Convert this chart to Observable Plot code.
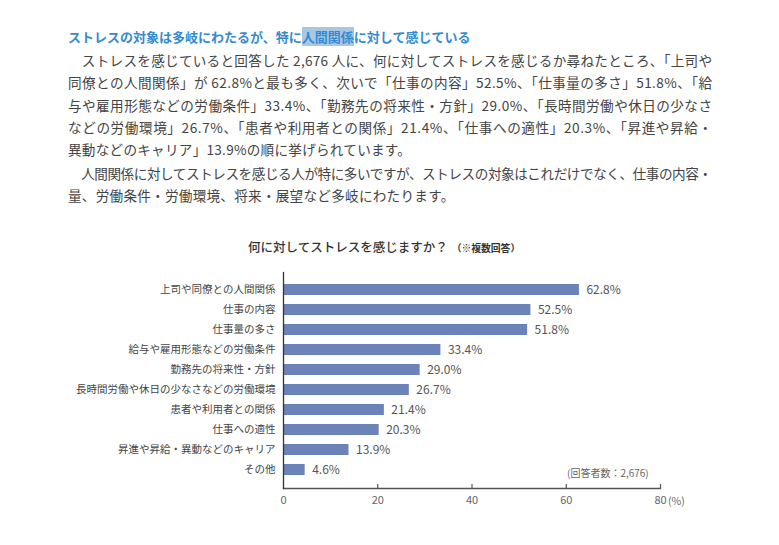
<!DOCTYPE html>
<html><head><meta charset="utf-8">
<script src="https://cdn.jsdelivr.net/npm/d3@7"></script>
<script src="https://cdn.jsdelivr.net/npm/@observablehq/plot@0.6"></script>
<style>
body{margin:0;background:#fff;font-family:"Noto Sans CJK JP","Noto Sans",sans-serif;}
#page{position:relative;width:779px;height:545px;overflow:hidden;background:#fff;}
.t{position:absolute;line-height:20px;white-space:nowrap;}
.title{left:68px;top:27px;font-size:13px;font-weight:700;color:#348bd0;}
.title .hl{background:#a9c6e3;}
.b{left:68px;font-size:13.6px;color:#444;}
.ct{left:248px;top:237px;font-size:12.5px;font-weight:500;color:#333;}
.ct small{font-size:9.8px;font-weight:700;margin-left:4px;}
.note{left:567px;top:466px;font-size:10px;line-height:14px;color:#666;}
.pct{left:668px;top:494px;font-size:10.5px;line-height:14px;color:#666;}
#chart{position:absolute;left:0;top:255px;}
</style></head><body>
<div id="page">
  <div class="t title">ストレスの対象は多岐にわたるが、特に<span class="hl">人間関係</span>に対して感じている</div>
  <div class="t b j" style="top:50px">　ストレスを感じていると回答した 2,676 人に、何に対してストレスを感じるか尋ねたところ、「上司や</div>
  <div class="t b j" style="top:72px">同僚との人間関係」が 62.8%と最も多く、次いで「仕事の内容」52.5%、「仕事量の多さ」51.8%、「給</div>
  <div class="t b j" style="top:95px">与や雇用形態などの労働条件」33.4%、「勤務先の将来性・方針」29.0%、「長時間労働や休日の少なさ</div>
  <div class="t b j" style="top:117px">などの労働環境」26.7%、「患者や利用者との関係」21.4%、「仕事への適性」20.3%、「昇進や昇給・</div>
  <div class="t b" style="top:139px">異動などのキャリア」13.9%の順に挙げられています。</div>
  <div class="t b j" style="top:163px">　人間関係に対してストレスを感じる人が特に多いですが、ストレスの対象はこれだけでなく、仕事の内容・</div>
  <div class="t b" style="top:185px">量、労働条件・労働環境、将来・展望など多岐にわたります。</div>
  <div class="t ct">何に対してストレスを感じますか？<small>（※複数回答）</small></div>
  <div id="chart"></div>
  <div class="t note">(回答者数：2,676)</div>
  <div class="t pct">(%)</div>
</div>
<script>
const categories = [
  "上司や同僚との人間関係",
  "仕事の内容",
  "仕事量の多さ",
  "給与や雇用形態などの労働条件",
  "勤務先の将来性・方針",
  "長時間労働や休日の少なさなどの労働環境",
  "患者や利用者との関係",
  "仕事への適性",
  "昇進や昇給・異動などのキャリア",
  "その他"
];
const values = [62.8, 52.5, 51.8, 33.4, 29.0, 26.7, 21.4, 20.3, 13.9, 4.6];
const xTicks = [0, 20, 40, 60, 80];

// fit justified body lines to the text block width
const blockWidth = 644;
let avgLs = 0, cnt = 0;
document.querySelectorAll(".b.j").forEach(el => {
  const w = el.getBoundingClientRect().width;
  const n = [...el.textContent].length;
  const ls = (blockWidth - w) / (n - 1);
  el.style.letterSpacing = ls + "px";
  avgLs += ls; cnt++;
});
document.querySelectorAll(".b:not(.j)").forEach(el => {
  el.style.letterSpacing = (avgLs / cnt) + "px";
});

const data = categories.map((c, i) => ({category: c, value: values[i]}));

const chart = Plot.plot({
  width: 779,
  height: 270,
  marginLeft: 283,
  marginRight: 119,
  marginTop: 17,
  marginBottom: 37,
  style: {fontFamily: '"Noto Sans CJK JP","Noto Sans",sans-serif', background: "transparent", color: "#555"},
  x: {domain: [0, 80]},
  y: {domain: categories, paddingInner: 0.43, paddingOuter: 0.4},
  marks: [
    Plot.barX(data, {x: "value", y: "category", fill: "#6b83b9"}),
    Plot.text(data, {x: "value", y: "category", text: d => d.value.toFixed(1) + "%", dx: 7, textAnchor: "start", fontSize: 12, fill: "#555"}),
    Plot.axisY({tickSize: 0, tickPadding: 8, fontSize: 10.5, fill: "#444", label: null}),
    Plot.axisX({ticks: xTicks, tickSize: 0, tickPadding: 8, fontSize: 11, fill: "#666", label: null}),
    Plot.ruleX(xTicks.slice(1), {insetTop: 212, stroke: "#555", strokeWidth: 1.2}),
    Plot.frame({anchor: "bottom", stroke: "#555", strokeWidth: 1.3}),
    Plot.frame({anchor: "left", stroke: "#333", strokeWidth: 1.3})
  ]
});
document.getElementById("chart").appendChild(chart);
</script>
</body></html>
